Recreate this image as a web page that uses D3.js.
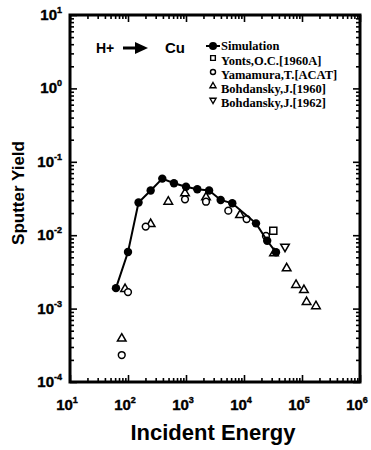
<!DOCTYPE html>
<html>
<head>
<meta charset="utf-8">
<script src="https://cdn.jsdelivr.net/npm/d3@7"></script>
<style>
  body { margin: 0; background: #fff; }
  svg { display: block; }
</style>
</head>
<body>
<svg width="371" height="450"></svg>
<script>
// --- data (energy in eV, yield in atoms/ion) ---
const simEnergy = [62, 100, 152, 246, 390, 620, 1000, 1566, 2500, 3960, 6280, 16100, 25100, 35600];
const simYield  = [0.0019, 0.0059, 0.0279, 0.0406, 0.059, 0.051, 0.0458, 0.0422, 0.0406, 0.0302, 0.0272, 0.0145, 0.0084, 0.00585];

const yontsEnergy = [32000];
const yontsYield  = [0.0115];

const yamaEnergy = [78, 100, 202, 961, 2213, 5360, 11100, 23900];
const yamaYield  = [0.000233, 0.00168, 0.0131, 0.0308, 0.0286, 0.0216, 0.0166, 0.00975];

const bohd60Energy = [78, 89, 246, 495, 961, 2213, 8530, 32900, 54400, 78900, 108000, 120000, 174000];
const bohd60Yield  = [0.00039, 0.00185, 0.0142, 0.0286, 0.0373, 0.0328, 0.0188, 0.00566, 0.00354, 0.0021, 0.00179, 0.00123, 0.00108];

const bohd62Energy = [50900];
const bohd62Yield  = [0.00697];

const xDecades = [1, 2, 3, 4, 5, 6];
const yDecades = [-4, -3, -2, -1, 0, 1];
const legendLabels = ["Simulation", "Yonts,O.C.[1960A]", "Yamamura,T.[ACAT]", "Bohdansky,J.[1960]", "Bohdansky,J.[1962]"];

const svg = d3.select("svg");
const mLeft = 70, mRight = 360, mTop = 15, mBottom = 382;

const x = d3.scaleLog().domain([10, 1e6]).range([mLeft, mRight]);
const y = d3.scaleLog().domain([1e-4, 10]).range([mBottom, mTop]);

const majorX = xDecades.map(d => Math.pow(10, d));
const majorY = yDecades.map(d => Math.pow(10, d));
const minorX = [], minorY = [];
for (let d = 1; d < 6; d++) for (let m = 2; m <= 9; m++) minorX.push(m * Math.pow(10, d));
for (let d = -4; d < 1; d++) for (let m = 2; m <= 9; m++) minorY.push(m * Math.pow(10, d));

const sans = "'Liberation Sans', Arial, sans-serif";
const serif = "'Liberation Serif', 'Times New Roman', serif";

// ticks on all four sides, pointing inward
function tickAxis(axisFn, scale, vals, size, transform) {
  svg.append("g")
    .attr("transform", transform)
    .call(axisFn(scale).tickValues(vals).tickSize(size).tickFormat(""))
    .call(g => g.select(".domain").remove())
    .call(g => g.selectAll("line").attr("stroke", "#000").attr("stroke-width", 1.6));
}
tickAxis(d3.axisTop, x, majorX, 7, `translate(0,${mBottom})`);
tickAxis(d3.axisTop, x, minorX, 4, `translate(0,${mBottom})`);
tickAxis(d3.axisBottom, x, majorX, 7, `translate(0,${mTop})`);
tickAxis(d3.axisBottom, x, minorX, 4, `translate(0,${mTop})`);
tickAxis(d3.axisRight, y, majorY, 7, `translate(${mLeft},0)`);
tickAxis(d3.axisRight, y, minorY, 4, `translate(${mLeft},0)`);
tickAxis(d3.axisLeft, y, majorY, 7, `translate(${mRight},0)`);
tickAxis(d3.axisLeft, y, minorY, 4, `translate(${mRight},0)`);

// frame
svg.append("rect")
  .attr("x", mLeft).attr("y", mTop)
  .attr("width", mRight - mLeft).attr("height", mBottom - mTop)
  .attr("fill", "none").attr("stroke", "#000").attr("stroke-width", 3);

// tick labels 10^n
const xLab = svg.append("g").selectAll("text").data(xDecades).join("text")
  .attr("x", d => x(Math.pow(10, d)) - 3)
  .attr("y", 410)
  .attr("text-anchor", "middle")
  .attr("font-family", sans).attr("font-weight", "bold").attr("font-size", 15)
  .attr("stroke", "#000").attr("stroke-width", 0.4);
xLab.append("tspan").text("10");
xLab.append("tspan").attr("dy", -7).attr("font-size", 9).text(d => d);

const yLab = svg.append("g").selectAll("text").data(yDecades).join("text")
  .attr("x", 62)
  .attr("y", d => y(Math.pow(10, d)) + 5)
  .attr("text-anchor", "end")
  .attr("font-family", sans).attr("font-weight", "bold").attr("font-size", 15)
  .attr("stroke", "#000").attr("stroke-width", 0.4);
yLab.append("tspan").text("10");
yLab.append("tspan").attr("dy", -7).attr("font-size", 9).text(d => d);

// axis titles
svg.append("text")
  .attr("x", 213).attr("y", 440)
  .attr("text-anchor", "middle")
  .attr("font-family", sans).attr("font-weight", "bold").attr("font-size", 22)
  .text("Incident Energy");
svg.append("text")
  .attr("transform", "translate(24,193) rotate(-90)")
  .attr("text-anchor", "middle")
  .attr("font-family", sans).attr("font-weight", "bold").attr("font-size", 17)
  .text("Sputter Yield");

// H+ -> Cu
svg.append("text").attr("x", 96).attr("y", 53)
  .attr("font-family", sans).attr("font-weight", "bold").attr("font-size", 14).text("H+");
svg.append("line").attr("x1", 123).attr("x2", 138).attr("y1", 48).attr("y2", 48)
  .attr("stroke", "#000").attr("stroke-width", 3);
svg.append("path").attr("d", "M135,42 L148,48 L135,54 Z").attr("fill", "#000");
svg.append("text").attr("x", 165).attr("y", 53)
  .attr("font-family", sans).attr("font-weight", "bold").attr("font-size", 15).text("Cu");

// markers
const symCircle = d3.symbol().type(d3.symbolCircle);
const symSquare = d3.symbol().type(d3.symbolSquare);
const symTri = d3.symbol().type(d3.symbolTriangle);

function openMarks(xs, ys, gen, size, rot) {
  svg.append("g").selectAll("path").data(xs).join("path")
    .attr("transform", (d, i) => `translate(${x(d)},${y(ys[i])}) rotate(${rot})`)
    .attr("d", gen.size(size)())
    .attr("fill", "#fff").attr("stroke", "#000").attr("stroke-width", 1.5);
}
openMarks(bohd60Energy, bohd60Yield, symTri, 32, 0);
openMarks(bohd62Energy, bohd62Yield, symTri, 32, 180);
openMarks(yamaEnergy, yamaYield, symCircle, 36, 0);
openMarks(yontsEnergy, yontsYield, symSquare, 50, 0);

// simulation line + filled circles
svg.append("path")
  .datum(simEnergy)
  .attr("d", d3.line().x(d => x(d)).y((d, i) => y(simYield[i])))
  .attr("fill", "none").attr("stroke", "#000").attr("stroke-width", 2);
svg.append("g").selectAll("circle").data(simEnergy).join("circle")
  .attr("cx", d => x(d)).attr("cy", (d, i) => y(simYield[i]))
  .attr("r", 4.2).attr("fill", "#000");

// legend
const legY = [46, 61, 75, 89, 103];
const lg = svg.append("g");
lg.append("line").attr("x1", 206).attr("x2", 220).attr("y1", legY[0]).attr("y2", legY[0])
  .attr("stroke", "#000").attr("stroke-width", 2);
lg.append("circle").attr("cx", 213).attr("cy", legY[0]).attr("r", 4).attr("fill", "#000");
const legSyms = [[symSquare, 22, 0, 1], [symCircle, 20, 0, 2], [symTri, 16, 0, 3], [symTri, 16, 180, 4]];
legSyms.forEach(([gen, size, rot, i]) => {
  lg.append("path")
    .attr("transform", `translate(213,${legY[i] - 3}) rotate(${rot})`)
    .attr("d", gen.size(size)())
    .attr("fill", "#fff").attr("stroke", "#000").attr("stroke-width", 1.4);
});
lg.selectAll("text").data(legendLabels).join("text")
  .attr("x", 221).attr("y", (d, i) => legY[i] + 4)
  .attr("font-family", serif).attr("font-weight", "bold").attr("font-size", 12.5)
  .text(d => d);
</script>
</body>
</html>
